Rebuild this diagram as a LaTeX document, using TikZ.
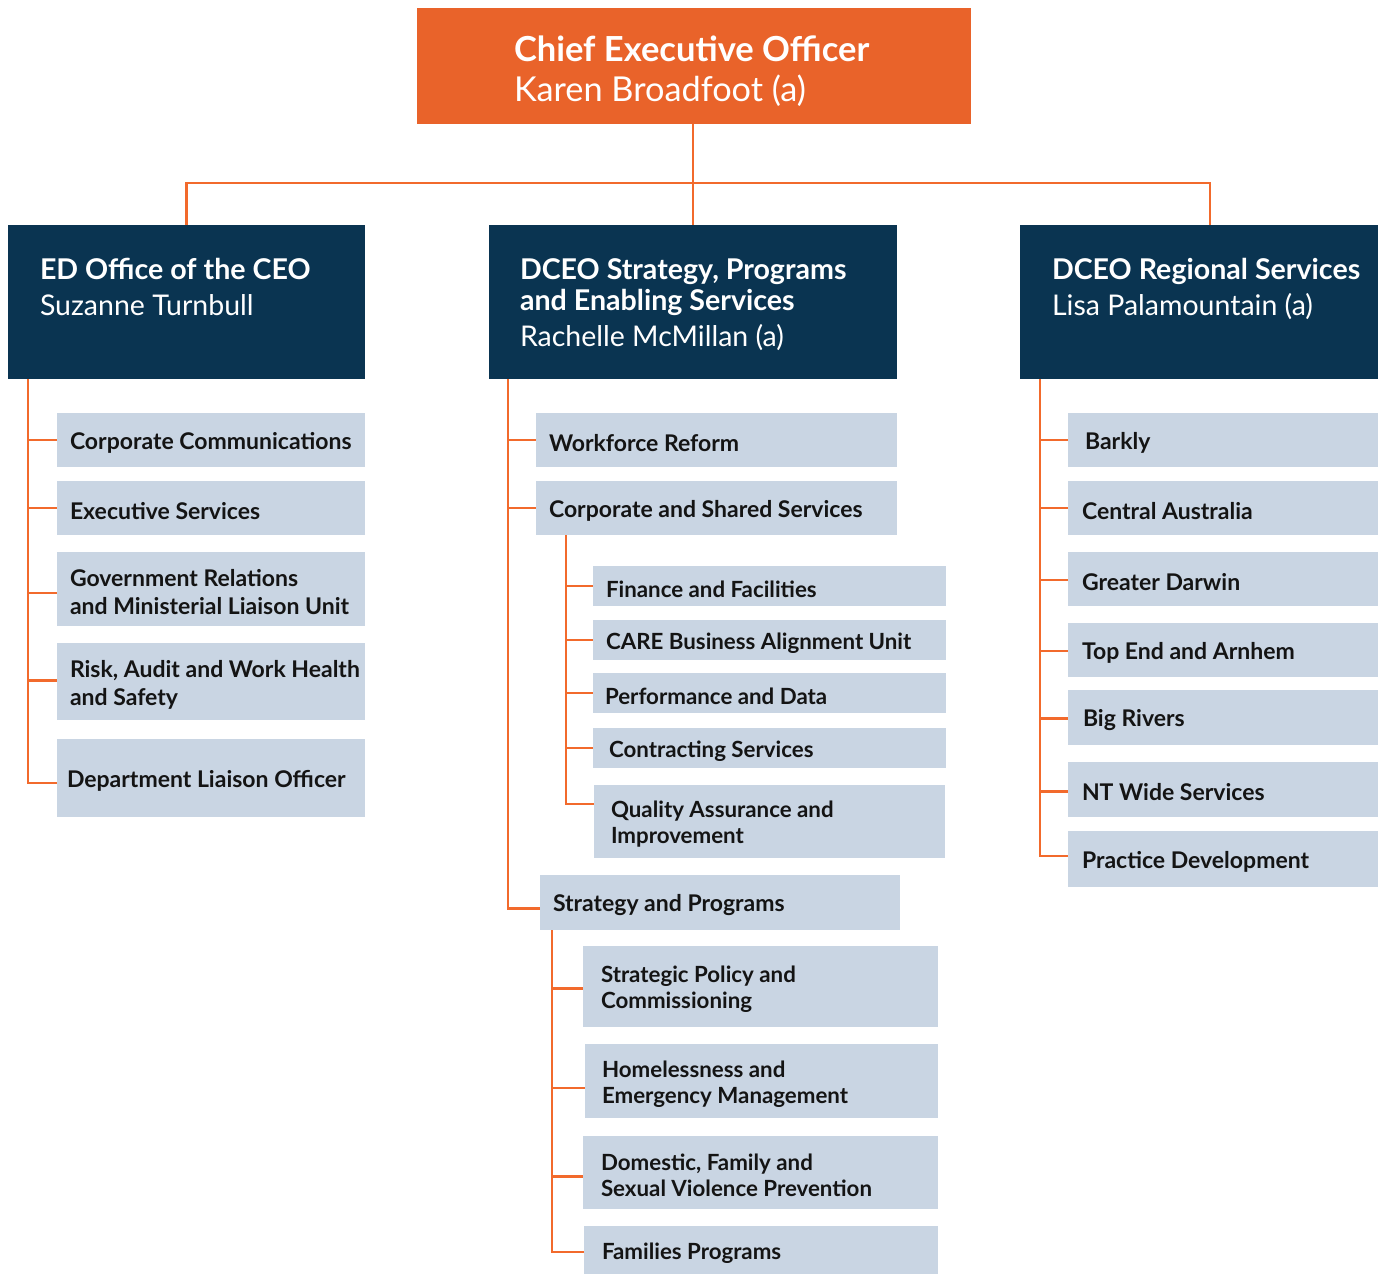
\documentclass[tikz,border=0pt]{standalone}
\usepackage{fontspec}
\setmainfont{Lato}
\definecolor{ceoorange}{HTML}{E9632A}
\definecolor{linkorange}{HTML}{F26A2C}
\definecolor{navy}{HTML}{0A3451}
\definecolor{paleblue}{HTML}{C9D5E3}
\definecolor{ink}{HTML}{141414}

\tikzset{
  every node/.style={inner sep=0pt, outer sep=0pt},
  panel/.style={anchor=north west, inner sep=0pt, outer sep=0pt},
  link/.style={draw=linkorange, line width=2.9pt, line join=miter},
  itemtext/.style={anchor=west, align=left, text=ink,
    font=\fontsize{23}{28}\selectfont\bfseries},
  subtext/.style={anchor=west, align=left, text=ink,
    font=\fontsize{22.3}{26}\selectfont\bfseries},
  ceohead/.style={anchor=base west, text=white, font=\fontsize{34.5}{40}\selectfont\bfseries},
  ceoname/.style={anchor=base west, text=white, font=\fontsize{34.3}{40}\selectfont},
  head/.style={anchor=base west, text=white, font=\fontsize{28.6}{31}\selectfont\bfseries},
  headname/.style={anchor=base west, text=white, font=\fontsize{28.5}{31}\selectfont},
}

% unit box: [label style] name, x1, y1, x2, y2, text inset, label
\newcommand\unitbox[8][itemtext]{%
  \node[panel, fill=paleblue, minimum width={#5-#3}, minimum height={#6-#4}] (#2) at (#3,#4) {};
  \node[#1] (#2-t) at ([xshift=#7pt, yshift=-3pt]#2.west) {#8};
}

\begin{document}
\begin{tikzpicture}[x=1pt, y=-1pt]
\useasboundingbox (0,0) rectangle (1383,1274);

% ---- top level ----
\node[panel, fill=ceoorange, minimum width=554, minimum height=116] (ceo) at (417,8) {};
\node[ceohead] (ceo-t1) at (514,61) {Chief Executive Officer};
\node[ceoname] (ceo-t2) at (514,101) {Karen Broadfoot (a)};

% ---- second level ----
\node[panel, fill=navy, minimum width=357, minimum height=154] (ed) at (8,225) {};
\node[head] (ed-t1) at (40,279) {ED Office of the CEO};
\node[headname] (ed-t2) at (40,315) {Suzanne Turnbull};

\node[panel, fill=navy, minimum width=408, minimum height=154] (spe) at (489,225) {};
\node[head] (spe-t1) at (520,279) {DCEO Strategy, Programs};
\node[head] (spe-t2) at (520,310) {and Enabling Services};
\node[headname] (spe-t3) at (520,346) {Rachelle McMillan (a)};

\node[panel, fill=navy, minimum width=358, minimum height=154] (rs) at (1020,225) {};
\node[head] (rs-t1) at (1052,279) {DCEO Regional Services};
\node[headname] (rs-t2) at (1052,315) {Lisa Palamountain (a)};

% ---- ED Office of the CEO units ----
\unitbox{cc}{57}{413}{365}{467}{13}{Corporate Communications}
\unitbox{es}{57}{481}{365}{535}{13}{Executive Services}
\unitbox{gr}{57}{552}{365}{626}{13}{Government Relations\\and Ministerial Liaison Unit}
\unitbox{ra}{57}{643}{365}{720}{13}{Risk, Audit and Work Health\\and Safety}
\unitbox{dl}{57}{739}{365}{817}{10}{Department Liaison Officer}

% ---- Strategy, Programs and Enabling Services units ----
\unitbox{wr}{536}{413}{897}{467}{13}{Workforce Reform}
\unitbox{css}{536}{481}{897}{535}{13}{Corporate and Shared Services}
\unitbox[subtext]{ff}{593}{566}{946}{606}{13}{Finance and Facilities}
\unitbox[subtext]{care}{593}{620}{946}{660}{13}{CARE Business Alignment Unit}
\unitbox[subtext]{pd}{593}{673}{946}{713}{12}{Performance and Data}
\unitbox[subtext]{cs}{593}{728}{946}{768}{16}{Contracting Services}
\unitbox[subtext]{qa}{594}{785}{945}{858}{17}{Quality Assurance and\\Improvement}
\unitbox{sp}{540}{875}{900}{930}{13}{Strategy and Programs}
\unitbox[subtext]{spc}{583}{946}{938}{1027}{18}{Strategic Policy and\\Commissioning}
\unitbox[subtext]{hem}{585}{1044}{938}{1118}{17}{Homelessness and\\Emergency Management}
\unitbox[subtext]{dfv}{583}{1136}{938}{1209}{18}{Domestic, Family and\\Sexual Violence Prevention}
\unitbox[subtext]{fp}{584}{1226}{938}{1274}{18}{Families Programs}

% ---- Regional Services units ----
\unitbox{bk}{1068}{413}{1378}{467}{17}{Barkly}
\unitbox{ca}{1068}{481}{1378}{535}{14}{Central Australia}
\unitbox{gd}{1068}{552}{1378}{606}{14}{Greater Darwin}
\unitbox{te}{1068}{623}{1378}{677}{14}{Top End and Arnhem}
\unitbox{br}{1068}{690}{1378}{745}{15}{Big Rivers}
\unitbox{nt}{1068}{762}{1378}{817}{14}{NT Wide Services}
\unitbox{pdv}{1068}{831}{1378}{887}{14}{Practice Development}

% ---- connectors: CEO to second level ----
\coordinate (bar) at (693,183);
\draw[link, line width=2.5pt] (ceo.south -| spe.north) -- (spe.north);
\draw[link, line width=2.5pt] (ed.north) |- (bar) -| ([xshift=11pt]rs.north);

% ---- connectors: ED Office ----
\coordinate (edsp) at ([xshift=20pt]ed.south west);
\foreach \u/\d in {cc/0, es/0, gr/-4, ra/1, dl/-5}
  \draw[link] (edsp) |- ([yshift=\d pt]\u.west);

% ---- connectors: Strategy, Programs and Enabling Services ----
\coordinate (spesp) at ([xshift=19pt]spe.south west);
\foreach \u/\d in {wr/0, css/0, sp/-6}
  \draw[link] (spesp) |- ([yshift=\d pt]\u.west);
\coordinate (csssp) at ([xshift=30pt]css.south west);
\foreach \u/\d in {ff/0, care/0, pd/0, cs/0}
  \draw[link] (csssp) |- ([yshift=\d pt]\u.west);
\draw[link] (csssp) |- ([yshift=-19pt]qa.north west);
\coordinate (spsp) at ([xshift=12pt]sp.south west);
\foreach \u/\d in {spc/-2, hem/-7, dfv/-4, fp/-2}
  \draw[link] (spsp) |- ([yshift=\d pt]\u.west);

% ---- connectors: Regional Services ----
\coordinate (rssp) at ([xshift=20pt]rs.south west);
\foreach \u/\d in {bk/0, ca/0, gd/-1, te/-1, br/-1, nt/-2, pdv/3}
  \draw[link] (rssp) |- ([yshift=\d pt]\u.west);
\end{tikzpicture}
\end{document}
